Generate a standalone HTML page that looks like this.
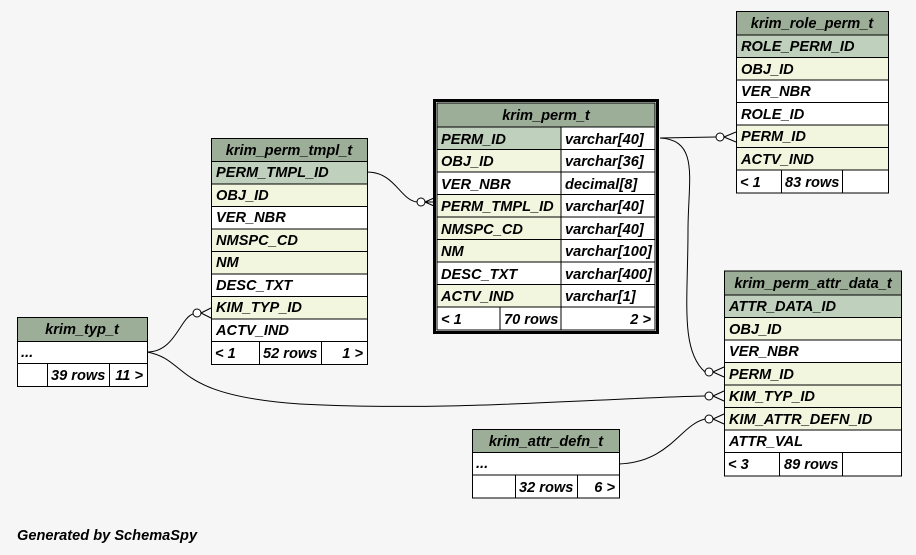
<!DOCTYPE html>
<html><head><meta charset="utf-8"><style>
html,body{margin:0;padding:0;background:#f6f6f6;}
svg{display:block;}
text{font-family:"Liberation Sans",Arial,sans-serif;font-weight:bold;font-style:italic;font-size:14.6px;fill:#000;}
</style></head><body>
<svg width="916" height="555" xmlns="http://www.w3.org/2000/svg">
<rect width="916" height="555" fill="#f6f6f6"/>
<g stroke="#000" stroke-width="1" fill="none">
<path d="M367,172 C395,172 400,200 417,202"/>
<path d="M660,138 L716,137"/>
<path d="M660,138 C700,140 688,180 688,230 C688,300 680,350 705,372"/>
<path d="M147,352 C175,352 180,318 193,314"/>
<path d="M147,352 C190,360 170,395 300,404 C450,412 600,398 705,396"/>
<path d="M619,464 C670,462 680,425 705,419"/>
</g>
<g stroke="#000" fill="#fff" stroke-width="1">
<circle cx="421" cy="202" r="4"/>
<circle cx="720" cy="137" r="4"/>
<circle cx="709" cy="372" r="4"/>
<circle cx="197" cy="313" r="4"/>
<circle cx="709" cy="396" r="4"/>
<circle cx="709" cy="419" r="4"/>
</g>
<g stroke="#000" fill="none" stroke-width="1">
<path d="M425,202 L434,198 M425,202 L434,206 M425,202 L434,202"/>
<path d="M724,137 L736,132 M724,137 L736,142"/>
<path d="M713,372 L724,367 M713,372 L724,377"/>
<path d="M201,313 L211,308 M201,313 L211,318"/>
<path d="M713,396 L724,391 M713,396 L724,401"/>
<path d="M713,419 L724,414 M713,419 L724,424"/>
</g>

<g>
<rect x="434.5" y="100.5" width="223" height="232" fill="#fff" stroke="#000" stroke-width="3"/>
<rect x="437" y="103" width="218" height="24" fill="#9dae98" stroke="#000"/>
<text x="546" y="120" text-anchor="middle">krim_perm_t</text>
<rect x="437" y="127" width="124" height="22.5" fill="#bfd1bc" stroke="#000"/>
<rect x="561" y="127" width="94" height="22.5" fill="#fff" stroke="#000"/>
<rect x="437" y="149.5" width="124" height="22.5" fill="#f3f6df" stroke="#000"/>
<rect x="561" y="149.5" width="94" height="22.5" fill="#fff" stroke="#000"/>
<rect x="437" y="172" width="124" height="22.5" fill="#fff" stroke="#000"/>
<rect x="561" y="172" width="94" height="22.5" fill="#fff" stroke="#000"/>
<rect x="437" y="194.5" width="124" height="22.5" fill="#f3f6df" stroke="#000"/>
<rect x="561" y="194.5" width="94" height="22.5" fill="#fff" stroke="#000"/>
<rect x="437" y="217" width="124" height="22.5" fill="#f3f6df" stroke="#000"/>
<rect x="561" y="217" width="94" height="22.5" fill="#fff" stroke="#000"/>
<rect x="437" y="239.5" width="124" height="22.5" fill="#f3f6df" stroke="#000"/>
<rect x="561" y="239.5" width="94" height="22.5" fill="#fff" stroke="#000"/>
<rect x="437" y="262" width="124" height="22.5" fill="#fff" stroke="#000"/>
<rect x="561" y="262" width="94" height="22.5" fill="#fff" stroke="#000"/>
<rect x="437" y="284.5" width="124" height="22.5" fill="#f3f6df" stroke="#000"/>
<rect x="561" y="284.5" width="94" height="22.5" fill="#fff" stroke="#000"/>
<rect x="437" y="307" width="63" height="23" fill="#fff" stroke="#000"/>
<rect x="500" y="307" width="61" height="23" fill="#fff" stroke="#000"/>
<rect x="561" y="307" width="94" height="23" fill="#fff" stroke="#000"/>
<text x="441" y="144">PERM_ID</text><text x="565" y="144">varchar[40]</text>
<text x="441" y="166">OBJ_ID</text><text x="565" y="166">varchar[36]</text>
<text x="441" y="189">VER_NBR</text><text x="565" y="189">decimal[8]</text>
<text x="441" y="211">PERM_TMPL_ID</text><text x="565" y="211">varchar[40]</text>
<text x="441" y="234">NMSPC_CD</text><text x="565" y="234">varchar[40]</text>
<text x="441" y="256">NM</text><text x="565" y="256">varchar[100]</text>
<text x="441" y="279">DESC_TXT</text><text x="565" y="279">varchar[400]</text>
<text x="441" y="301">ACTV_IND</text><text x="565" y="301">varchar[1]</text>
<text x="441" y="324">&lt; 1</text><text x="504" y="324">70 rows</text><text x="651" y="324" text-anchor="end">2 &gt;</text>
</g>

<g>
<rect x="211.5" y="138.5" width="156" height="23" fill="#9dae98" stroke="#000"/>
<text x="289" y="155" text-anchor="middle">krim_perm_tmpl_t</text>
<rect x="211.5" y="161.5" width="156" height="22.5" fill="#bfd1bc" stroke="#000"/>
<rect x="211.5" y="184" width="156" height="22.5" fill="#f3f6df" stroke="#000"/>
<rect x="211.5" y="206.5" width="156" height="22.5" fill="#fff" stroke="#000"/>
<rect x="211.5" y="229" width="156" height="22.5" fill="#f3f6df" stroke="#000"/>
<rect x="211.5" y="251.5" width="156" height="22.5" fill="#f3f6df" stroke="#000"/>
<rect x="211.5" y="274" width="156" height="22.5" fill="#fff" stroke="#000"/>
<rect x="211.5" y="296.5" width="156" height="22.5" fill="#f3f6df" stroke="#000"/>
<rect x="211.5" y="319" width="156" height="22.5" fill="#fff" stroke="#000"/>
<rect x="211.5" y="341.5" width="48" height="23" fill="#fff" stroke="#000"/>
<rect x="259.5" y="341.5" width="62" height="23" fill="#fff" stroke="#000"/>
<rect x="321.5" y="341.5" width="46" height="23" fill="#fff" stroke="#000"/>
<text x="216" y="177">PERM_TMPL_ID</text>
<text x="216" y="200">OBJ_ID</text>
<text x="216" y="222">VER_NBR</text>
<text x="216" y="245">NMSPC_CD</text>
<text x="216" y="267">NM</text>
<text x="216" y="290">DESC_TXT</text>
<text x="216" y="312">KIM_TYP_ID</text>
<text x="216" y="335">ACTV_IND</text>
<text x="215" y="358">&lt; 1</text><text x="263" y="358">52 rows</text><text x="363" y="358" text-anchor="end">1 &gt;</text>
</g>

<g>
<rect x="736.5" y="11.5" width="152" height="23.5" fill="#9dae98" stroke="#000"/>
<text x="812" y="28" text-anchor="middle">krim_role_perm_t</text>
<rect x="736.5" y="35" width="152" height="22.5" fill="#bfd1bc" stroke="#000"/>
<rect x="736.5" y="57.5" width="152" height="22.5" fill="#f3f6df" stroke="#000"/>
<rect x="736.5" y="80" width="152" height="22.5" fill="#fff" stroke="#000"/>
<rect x="736.5" y="102.5" width="152" height="22.5" fill="#fff" stroke="#000"/>
<rect x="736.5" y="125" width="152" height="22.5" fill="#f3f6df" stroke="#000"/>
<rect x="736.5" y="147.5" width="152" height="22.5" fill="#f3f6df" stroke="#000"/>
<rect x="736.5" y="170" width="45" height="23" fill="#fff" stroke="#000"/>
<rect x="781.5" y="170" width="61" height="23" fill="#fff" stroke="#000"/>
<rect x="842.5" y="170" width="46" height="23" fill="#fff" stroke="#000"/>
<text x="741" y="51">ROLE_PERM_ID</text>
<text x="741" y="74">OBJ_ID</text>
<text x="741" y="96">VER_NBR</text>
<text x="741" y="119">ROLE_ID</text>
<text x="741" y="141">PERM_ID</text>
<text x="741" y="164">ACTV_IND</text>
<text x="740" y="187">&lt; 1</text><text x="785" y="187">83 rows</text>
</g>

<g>
<rect x="724.5" y="271" width="177" height="24" fill="#9dae98" stroke="#000"/>
<text x="813" y="288" text-anchor="middle">krim_perm_attr_data_t</text>
<rect x="724.5" y="295" width="177" height="22.5" fill="#bfd1bc" stroke="#000"/>
<rect x="724.5" y="317.5" width="177" height="22.5" fill="#f3f6df" stroke="#000"/>
<rect x="724.5" y="340" width="177" height="22.5" fill="#fff" stroke="#000"/>
<rect x="724.5" y="362.5" width="177" height="22.5" fill="#f3f6df" stroke="#000"/>
<rect x="724.5" y="385" width="177" height="22.5" fill="#f3f6df" stroke="#000"/>
<rect x="724.5" y="407.5" width="177" height="22.5" fill="#f3f6df" stroke="#000"/>
<rect x="724.5" y="430" width="177" height="22.5" fill="#fff" stroke="#000"/>
<rect x="724.5" y="452.5" width="55" height="23.5" fill="#fff" stroke="#000"/>
<rect x="779.5" y="452.5" width="63" height="23.5" fill="#fff" stroke="#000"/>
<rect x="842.5" y="452.5" width="59" height="23.5" fill="#fff" stroke="#000"/>
<text x="729" y="311">ATTR_DATA_ID</text>
<text x="729" y="334">OBJ_ID</text>
<text x="729" y="356">VER_NBR</text>
<text x="729" y="379">PERM_ID</text>
<text x="729" y="401">KIM_TYP_ID</text>
<text x="729" y="424">KIM_ATTR_DEFN_ID</text>
<text x="729" y="446">ATTR_VAL</text>
<text x="728" y="469">&lt; 3</text><text x="784" y="469">89 rows</text>
</g>

<g>
<rect x="17.5" y="317.5" width="130" height="24" fill="#9dae98" stroke="#000"/>
<text x="82" y="334" text-anchor="middle">krim_typ_t</text>
<rect x="17.5" y="341.5" width="130" height="22" fill="#fff" stroke="#000"/>
<rect x="17.5" y="363.5" width="30" height="23" fill="#fff" stroke="#000"/>
<rect x="47.5" y="363.5" width="62" height="23" fill="#fff" stroke="#000"/>
<rect x="109.5" y="363.5" width="38" height="23" fill="#fff" stroke="#000"/>
<text x="21" y="357">...</text>
<text x="51" y="380">39 rows</text><text x="143" y="380" text-anchor="end">11 &gt;</text>
</g>

<g>
<rect x="472.5" y="429.5" width="147" height="23" fill="#9dae98" stroke="#000"/>
<text x="546" y="446" text-anchor="middle">krim_attr_defn_t</text>
<rect x="472.5" y="452.5" width="147" height="22.5" fill="#fff" stroke="#000"/>
<rect x="472.5" y="475" width="43" height="23" fill="#fff" stroke="#000"/>
<rect x="515.5" y="475" width="62" height="23" fill="#fff" stroke="#000"/>
<rect x="577.5" y="475" width="42" height="23" fill="#fff" stroke="#000"/>
<text x="476" y="468">...</text>
<text x="519" y="492">32 rows</text><text x="615" y="492" text-anchor="end">6 &gt;</text>
</g>

<text x="17" y="540">Generated by SchemaSpy</text>
</svg>
</body></html>
